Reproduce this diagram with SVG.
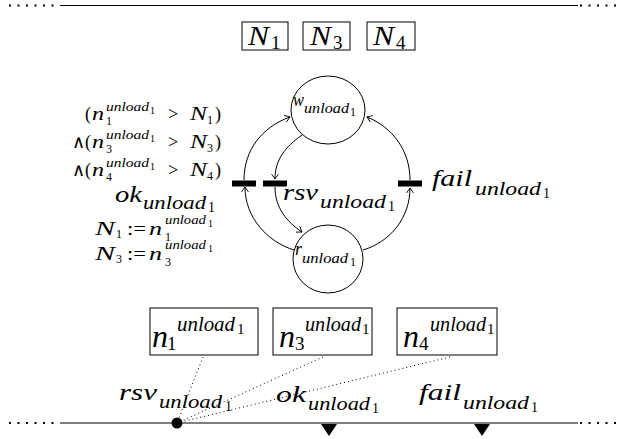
<svg xmlns="http://www.w3.org/2000/svg" width="620" height="439" viewBox="0 0 620 439">
<defs>
<style>
.t{font-family:"Liberation Serif","Times New Roman",serif;font-style:italic;fill:#000}
.u{font-style:normal}
.box{fill:#fff;stroke:#000;stroke-width:1}
.place{fill:#fff;stroke:#000;stroke-width:1}
.arc{fill:none;stroke:#000;stroke-width:1;marker-end:url(#ah)}
.sol{stroke:#000;stroke-width:1}
.dots{stroke:#000;stroke-width:2;stroke-dasharray:2 6.5}
.conn{stroke:#000;stroke-width:1;stroke-dasharray:1 3;fill:none}
</style>
<marker id="ah" viewBox="-6 -5 7 10" markerWidth="7" markerHeight="10" refX="0" refY="0" orient="auto" markerUnits="userSpaceOnUse">
<path d="M-5,-3.5 Q-1.5,-1 0,0 Q-1.5,1 -5,3.5" fill="none" stroke="#000" stroke-width="0.9"/>
</marker>
</defs>
<rect width="620" height="439" fill="#fff"/>

<g id="timeline-top">
<line class="dots" x1="9" y1="5.5" x2="60" y2="5.5"/>
<line class="sol" x1="60" y1="5.5" x2="578" y2="5.5"/>
<line class="dots" x1="580" y1="5.5" x2="620" y2="5.5"/>
</g>

<g id="N1">
<rect class="box" x="242" y="22" width="46" height="28"/>
<text class="t"><tspan x="248" y="45" font-size="28" textLength="21" lengthAdjust="spacingAndGlyphs">N</tspan><tspan class="u" x="271" y="49" font-size="19">1</tspan></text>
</g>
<g id="N3">
<rect class="box" x="303" y="22" width="47" height="28"/>
<text class="t"><tspan x="310" y="45" font-size="28" textLength="21" lengthAdjust="spacingAndGlyphs">N</tspan><tspan class="u" x="333" y="49" font-size="19">3</tspan></text>
</g>
<g id="N4">
<rect class="box" x="367" y="22" width="48" height="28"/>
<text class="t"><tspan x="373" y="45" font-size="28" textLength="21" lengthAdjust="spacingAndGlyphs">N</tspan><tspan class="u" x="396" y="49" font-size="19">4</tspan></text>
</g>

<g id="connectors">
<path class="arc" d="M244 180 C244 150 262 127 290 117"/>
<path class="arc" d="M294 250 C268 242 245 218 245 187"/>
<path class="arc" d="M302 135 C285 147 275 160 275 179"/>
<path class="arc" d="M275 187 C275 208 287 222 302 232"/>
<path class="arc" d="M410 180 C410 150 392 127 367 117"/>
<path class="arc" d="M363 250 C390 242 410 218 410 188"/>
<line class="conn" x1="203" y1="357" x2="177" y2="423"/>
<line class="conn" x1="323" y1="357" x2="177" y2="423"/>
<line class="conn" x1="450" y1="357" x2="177" y2="423"/>
</g>

<g id="w-place">
<ellipse class="place" cx="328" cy="110" rx="37" ry="34"/>
<text class="t"><tspan x="293" y="106" font-size="19" textLength="11" lengthAdjust="spacingAndGlyphs">w</tspan><tspan x="304" y="113" font-size="15" textLength="45" lengthAdjust="spacingAndGlyphs">unload</tspan><tspan class="u" x="350" y="116" font-size="12">1</tspan></text>
</g>
<g id="r-place">
<ellipse class="place" cx="328" cy="259" rx="35" ry="34"/>
<text class="t"><tspan x="295" y="255" font-size="19" textLength="7" lengthAdjust="spacingAndGlyphs">r</tspan><tspan x="302" y="263" font-size="15" textLength="46" lengthAdjust="spacingAndGlyphs">unload</tspan><tspan class="u" x="350" y="266" font-size="12">1</tspan></text>
</g>

<g id="ok-transition">
<rect x="232" y="180.5" width="24" height="6" fill="#000"/>
<text class="t" font-size="18">
<tspan class="u" x="85" y="120">(</tspan><tspan x="92" y="120" textLength="12" lengthAdjust="spacingAndGlyphs">n</tspan><tspan x="106" y="111" font-size="13" textLength="43" lengthAdjust="spacingAndGlyphs">unload</tspan><tspan class="u" x="150" y="114" font-size="10">1</tspan><tspan class="u" x="106" y="125" font-size="12">1</tspan><tspan class="u" x="168" y="120">&gt;</tspan><tspan x="190" y="120" textLength="17" lengthAdjust="spacingAndGlyphs">N</tspan><tspan class="u" x="207" y="124" font-size="12">1</tspan><tspan class="u" x="215" y="120">)</tspan>
</text>
<text class="t" font-size="18">
<tspan class="u" x="72" y="148">∧(</tspan><tspan x="92" y="148" textLength="12" lengthAdjust="spacingAndGlyphs">n</tspan><tspan x="106" y="139" font-size="13" textLength="43" lengthAdjust="spacingAndGlyphs">unload</tspan><tspan class="u" x="150" y="142" font-size="10">1</tspan><tspan class="u" x="106" y="153" font-size="12">3</tspan><tspan class="u" x="168" y="148">&gt;</tspan><tspan x="190" y="148" textLength="17" lengthAdjust="spacingAndGlyphs">N</tspan><tspan class="u" x="207" y="152" font-size="12">3</tspan><tspan class="u" x="215" y="148">)</tspan>
</text>
<text class="t" font-size="18">
<tspan class="u" x="72" y="176">∧(</tspan><tspan x="92" y="176" textLength="12" lengthAdjust="spacingAndGlyphs">n</tspan><tspan x="106" y="167" font-size="13" textLength="43" lengthAdjust="spacingAndGlyphs">unload</tspan><tspan class="u" x="150" y="170" font-size="10">1</tspan><tspan class="u" x="106" y="181" font-size="12">4</tspan><tspan class="u" x="168" y="176">&gt;</tspan><tspan x="190" y="176" textLength="17" lengthAdjust="spacingAndGlyphs">N</tspan><tspan class="u" x="207" y="180" font-size="12">4</tspan><tspan class="u" x="215" y="176">)</tspan>
</text>
<text class="t"><tspan x="115" y="202" font-size="24" textLength="27" lengthAdjust="spacingAndGlyphs">ok</tspan><tspan x="143" y="209" font-size="19" textLength="63" lengthAdjust="spacingAndGlyphs">unload</tspan><tspan class="u" x="208" y="212" font-size="14">1</tspan></text>
<text class="t" font-size="18">
<tspan x="95" y="235" textLength="20" lengthAdjust="spacingAndGlyphs">N</tspan><tspan class="u" x="116" y="238" font-size="12">1</tspan><tspan class="u" x="127" y="235" textLength="19" lengthAdjust="spacingAndGlyphs">:=</tspan><tspan x="149" y="235" textLength="13" lengthAdjust="spacingAndGlyphs">n</tspan><tspan x="165" y="224" font-size="13" textLength="41" lengthAdjust="spacingAndGlyphs">unload</tspan><tspan class="u" x="208" y="227" font-size="10">1</tspan><tspan class="u" x="165" y="241" font-size="12">1</tspan>
</text>
<text class="t" font-size="18">
<tspan x="95" y="260" textLength="20" lengthAdjust="spacingAndGlyphs">N</tspan><tspan class="u" x="116" y="263" font-size="12">3</tspan><tspan class="u" x="127" y="260" textLength="19" lengthAdjust="spacingAndGlyphs">:=</tspan><tspan x="149" y="260" textLength="13" lengthAdjust="spacingAndGlyphs">n</tspan><tspan x="165" y="249" font-size="13" textLength="41" lengthAdjust="spacingAndGlyphs">unload</tspan><tspan class="u" x="208" y="252" font-size="10">1</tspan><tspan class="u" x="165" y="266" font-size="12">3</tspan>
</text>
</g>

<g id="rsv-transition">
<rect x="263" y="180.5" width="24" height="6" fill="#000"/>
<text class="t"><tspan x="283" y="200" font-size="24" textLength="35" lengthAdjust="spacingAndGlyphs">rsv</tspan><tspan x="320" y="208" font-size="19" textLength="66" lengthAdjust="spacingAndGlyphs">unload</tspan><tspan class="u" x="388" y="211" font-size="14">1</tspan></text>
</g>

<g id="fail-transition">
<rect x="398" y="180.5" width="24" height="6" fill="#000"/>
<text class="t"><tspan x="432" y="186" font-size="24" textLength="40" lengthAdjust="spacingAndGlyphs">fail</tspan><tspan x="475" y="195" font-size="19" textLength="66" lengthAdjust="spacingAndGlyphs">unload</tspan><tspan class="u" x="543" y="198" font-size="14">1</tspan></text>
</g>

<g id="n1-box">
<rect class="box" x="150" y="308" width="108" height="47"/>
<text class="t"><tspan x="152" y="347" font-size="32" textLength="16" lengthAdjust="spacingAndGlyphs">n</tspan><tspan class="u" x="167" y="350" font-size="19">1</tspan><tspan x="177" y="331" font-size="20" textLength="58" lengthAdjust="spacingAndGlyphs">unload</tspan><tspan class="u" x="237" y="334" font-size="15">1</tspan></text>
</g>
<g id="n3-box">
<rect class="box" x="273" y="308" width="99" height="47"/>
<text class="t"><tspan x="279" y="347" font-size="32" textLength="16" lengthAdjust="spacingAndGlyphs">n</tspan><tspan class="u" x="295" y="350" font-size="19">3</tspan><tspan x="305" y="331" font-size="20" textLength="56" lengthAdjust="spacingAndGlyphs">unload</tspan><tspan class="u" x="362" y="334" font-size="15">1</tspan></text>
</g>
<g id="n4-box">
<rect class="box" x="397" y="308" width="100" height="47"/>
<text class="t"><tspan x="403" y="347" font-size="32" textLength="16" lengthAdjust="spacingAndGlyphs">n</tspan><tspan class="u" x="419" y="350" font-size="19">4</tspan><tspan x="430" y="331" font-size="20" textLength="56" lengthAdjust="spacingAndGlyphs">unload</tspan><tspan class="u" x="487" y="334" font-size="15">1</tspan></text>
</g>

<g id="timeline-bottom">
<line class="dots" x1="9" y1="423" x2="60" y2="423"/>
<line class="sol" x1="60" y1="423" x2="578" y2="423"/>
<line class="dots" x1="580" y1="423" x2="620" y2="423"/>
</g>

<g id="rsv-event">
<circle cx="177" cy="423" r="5.5" fill="#000"/>
<text class="t"><tspan x="119" y="400" font-size="24" textLength="38" lengthAdjust="spacingAndGlyphs">rsv</tspan><tspan x="159" y="408" font-size="19" textLength="63" lengthAdjust="spacingAndGlyphs">unload</tspan><tspan class="u" x="225" y="411" font-size="14">1</tspan></text>
</g>
<g id="ok-event">
<path d="M321 424 L337 424 L329 436 Z" fill="#000"/>
<text class="t"><tspan x="276" y="402" font-size="24" textLength="30" lengthAdjust="spacingAndGlyphs">ok</tspan><tspan x="308" y="410" font-size="19" textLength="62" lengthAdjust="spacingAndGlyphs">unload</tspan><tspan class="u" x="372" y="413" font-size="14">1</tspan></text>
</g>
<g id="fail-event">
<path d="M474 424 L490 424 L482 436 Z" fill="#000"/>
<text class="t"><tspan x="419" y="400" font-size="24" textLength="42" lengthAdjust="spacingAndGlyphs">fail</tspan><tspan x="463" y="409" font-size="19" textLength="66" lengthAdjust="spacingAndGlyphs">unload</tspan><tspan class="u" x="531" y="412" font-size="14">1</tspan></text>
</g>
</svg>
